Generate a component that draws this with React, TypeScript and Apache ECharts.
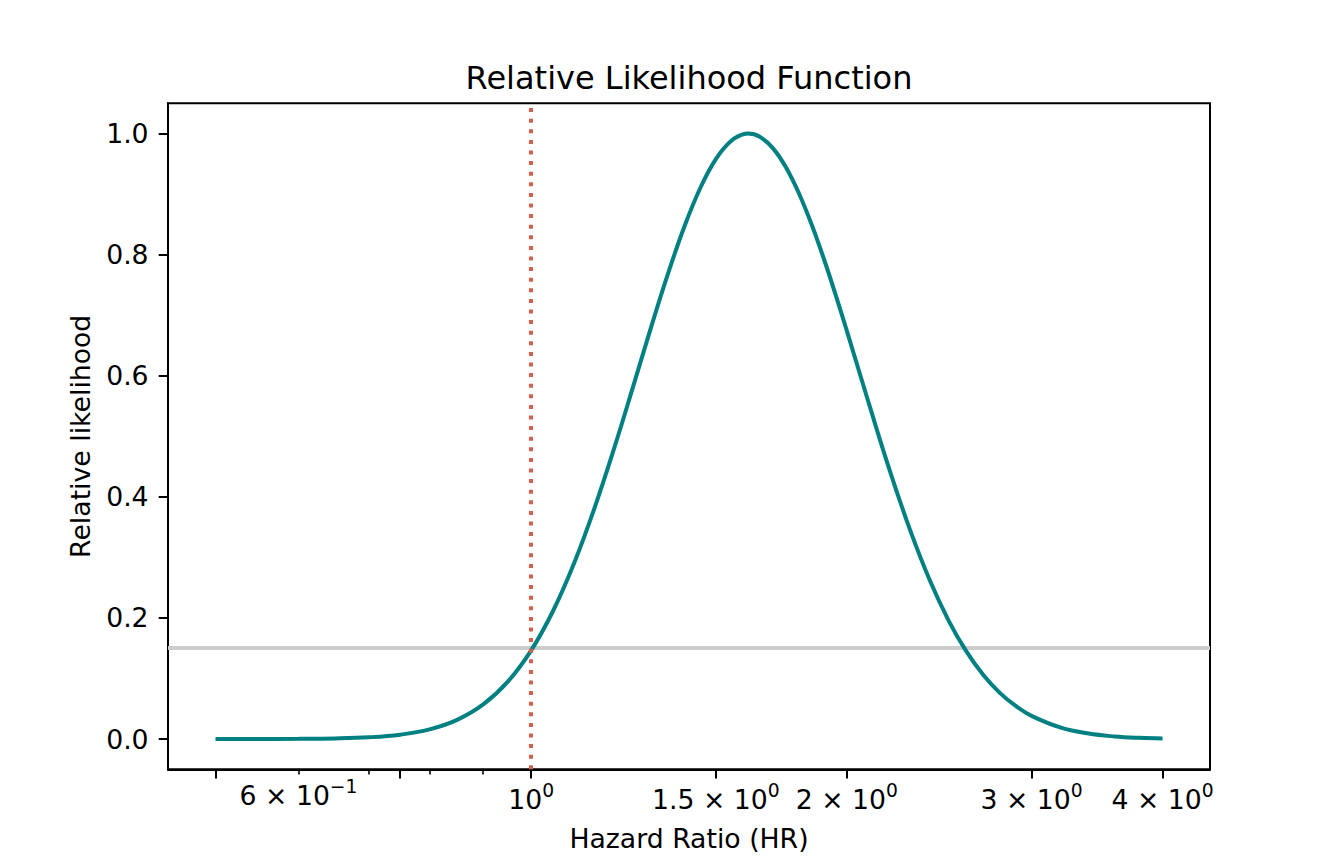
import React, { useEffect, useRef } from "react";
import * as echarts from "echarts";

// ---- data ----
const hazardRatio = [
  0.5, 0.55, 0.6, 0.65, 0.7, 0.75, 0.8, 0.85, 0.9, 0.95,
  1.0, 1.05, 1.1, 1.15, 1.2, 1.25, 1.3, 1.35, 1.4, 1.45,
  1.5, 1.55, 1.6, 1.61, 1.65, 1.7, 1.75, 1.8, 1.85, 1.9, 1.95,
  2.0, 2.1, 2.2, 2.3, 2.4, 2.5, 2.6, 2.7, 2.8, 2.9,
  3.0, 3.2, 3.4, 3.6, 3.8, 4.0,
];
const relativeLikelihood = [
  0.00001, 0.00006, 0.00026, 0.00095, 0.00283, 0.00718, 0.01596, 0.03167, 0.05709, 0.09479,
  0.1465, 0.2127, 0.2923, 0.383, 0.4804, 0.5803, 0.6779, 0.7678, 0.8465, 0.9105,
  0.9578, 0.9874, 0.9996, 1.0, 0.9952, 0.976, 0.944, 0.9015, 0.8511, 0.7949, 0.7354,
  0.6742, 0.553, 0.4408, 0.3433, 0.2617, 0.1961, 0.1447, 0.1054, 0.0759, 0.0542,
  0.0383, 0.0188, 0.00902, 0.00427, 0.002, 0.00093,
];
const nullHazardRatio = 1;
const cutoffLikelihood = 0.1465;

const xRange = [0.4505, 4.4393];
const yRange = [-0.05, 1.05];
const xMajorTicks = [0.5, 0.75, 1, 1.5, 2, 3, 4];
const xMinorTicks = [0.6, 0.7, 0.8, 0.9];
const xMajorLabelValues = [1, 1.5, 2, 3, 4];
const xMajorLabelMantissas = ["", "1.5 × ", "2 × ", "3 × ", "4 × "];
const xMajorLabelExponents = ["0", "0", "0", "0", "0"];
const xMinorLabelValues = [0.6];
const xMinorLabelMantissas = ["6 × "];
const xMinorLabelExponents = ["−1"];
const yTicks = [0, 0.2, 0.4, 0.6, 0.8, 1.0];

const titleText = "Relative Likelihood Function";
const xName = "Hazard Ratio (HR)";
const yName = "Relative likelihood";

const FONT = "DejaVu Sans";
const TICK_FS = 26.7;

function sciFormatter(values: number[], mants: string[], exps: string[]) {
  return (v: number) => {
    let idx = -1;
    for (let i = 0; i < values.length; i++) {
      if (Math.abs(values[i] - v) < 1e-6 * Math.max(1, values[i])) idx = i;
    }
    if (idx < 0) return "";
    return `{m|${mants[idx]}10}{e|${exps[idx]}}`;
  };
}

const richStyles = {
  m: { fontSize: TICK_FS, lineHeight: 28, fontFamily: FONT, color: "#000" },
  e: { fontSize: 18.7, height: 11, verticalAlign: "top", fontFamily: FONT, color: "#000" },
};

export default function App() {
  const ref = useRef<HTMLDivElement>(null);

  useEffect(() => {
    if (!ref.current) return;
    const chart = echarts.init(ref.current, undefined, { renderer: "svg" });
    const curve = hazardRatio.map((x, i) => [x, relativeLikelihood[i]]);

    const option: any = {
      animation: false,
      backgroundColor: "#ffffff",
      grid: {
        left: 168,
        right: 134,
        top: 103.3,
        bottom: 94.7,
        show: true,
        borderColor: "#000",
        borderWidth: 2,
        backgroundColor: "transparent",
        containLabel: false,
      },
      graphic: [
        {
          type: "text",
          x: 689,
          y: 78,
          style: {
            text: titleText,
            font: `32px "${FONT}"`,
            fill: "#000",
            textAlign: "center",
            textVerticalAlign: "middle",
          },
        },
        {
          type: "text",
          x: 689,
          y: 838.5,
          style: {
            text: xName,
            font: `${TICK_FS}px "${FONT}"`,
            fill: "#000",
            textAlign: "center",
            textVerticalAlign: "middle",
          },
        },
        {
          type: "text",
          x: 80,
          y: 436.3,
          rotation: Math.PI / 2,
          style: {
            text: yName,
            font: `${TICK_FS}px "${FONT}"`,
            fill: "#000",
            textAlign: "center",
            textVerticalAlign: "middle",
          },
        },
      ],
      xAxis: [
        {
          type: "log",
          logBase: 10,
          min: xRange[0],
          max: xRange[1],
          position: "bottom",
          axisLine: { show: true, onZero: false, lineStyle: { color: "#000", width: 2 } },
          axisTick: {
            show: true,
            length: 9.3,
            lineStyle: { color: "#000", width: 2 },
            customValues: xMajorTicks,
          },
          minorTick: { show: false },
          splitLine: { show: false },
          axisLabel: {
            customValues: xMajorLabelValues,
            margin: 15.7,
            formatter: sciFormatter(xMajorLabelValues, xMajorLabelMantissas, xMajorLabelExponents),
            rich: richStyles,
            color: "#000",
            fontFamily: FONT,
            fontSize: TICK_FS,
          },
        },
        {
          type: "log",
          logBase: 10,
          min: xRange[0],
          max: xRange[1],
          position: "bottom",
          gridIndex: 0,
          axisLine: { show: false, onZero: false },
          axisTick: {
            show: true,
            length: 5.3,
            lineStyle: { color: "#000", width: 1.6 },
            customValues: xMinorTicks,
          },
          minorTick: { show: false },
          splitLine: { show: false },
          axisLabel: {
            customValues: xMinorLabelValues,
            margin: 12,
            formatter: sciFormatter(xMinorLabelValues, xMinorLabelMantissas, xMinorLabelExponents),
            rich: richStyles,
            color: "#000",
            fontFamily: FONT,
            fontSize: TICK_FS,
          },
        },
      ],
      yAxis: {
        type: "value",
        min: yRange[0],
        max: yRange[1],
        axisLine: { show: true, onZero: false, lineStyle: { color: "#000", width: 2 } },
        axisTick: {
          show: true,
          length: 9.3,
          lineStyle: { color: "#000", width: 2 },
          customValues: yTicks,
        },
        splitLine: { show: false },
        axisLabel: {
          customValues: yTicks,
          margin: 19.4,
          formatter: (v: number) => v.toFixed(1),
          color: "#000",
          fontFamily: FONT,
          fontSize: TICK_FS,
        },
      },
      series: [
        {
          type: "line",
          name: "cutoff",
          xAxisIndex: 1,
          yAxisIndex: 0,
          data: [],
          z: 1,
          silent: true,
          markLine: {
            z: 1,
            silent: true,
            symbol: ["none", "none"],
            label: { show: false },
            emphasis: { disabled: true },
            lineStyle: { color: "#cccccc", width: 4, type: "solid" },
            data: [{ yAxis: cutoffLikelihood }],
          },
        },
        {
          type: "line",
          name: "likelihood",
          xAxisIndex: 0,
          yAxisIndex: 0,
          data: curve,
          showSymbol: false,
          smooth: 0.4,
          z: 3,
          silent: true,
          emphasis: { disabled: true },
          lineStyle: { color: "#008080", width: 4 },
          markLine: {
            z: 5,
            silent: true,
            symbol: ["none", "none"],
            label: { show: false },
            emphasis: { disabled: true },
            lineStyle: { color: "#d6604d", width: 4, type: [4, 6.6], cap: "butt" },
            data: [{ xAxis: nullHazardRatio }],
          },
        },
      ],
    };

    chart.setOption(option);
    return () => chart.dispose();
  }, []);

  return (
    <div
      ref={ref}
      style={{ position: "fixed", left: 0, top: 0, width: 1344, height: 864, background: "#fff" }}
    />
  );
}
